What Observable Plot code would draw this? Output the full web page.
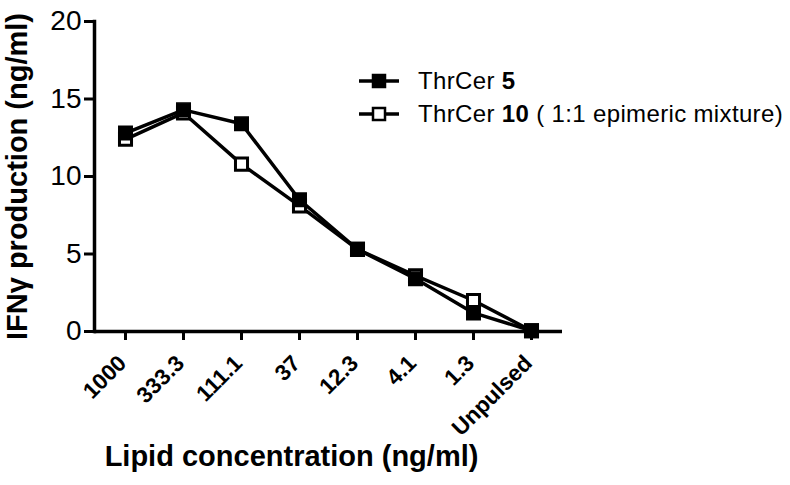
<!DOCTYPE html>
<html>
<head>
<meta charset="utf-8">
<script src="https://cdn.jsdelivr.net/npm/d3@7"></script>
<script src="https://cdn.jsdelivr.net/npm/@observablehq/plot@0.6"></script>
<style>
  html, body { margin: 0; padding: 0; background: #fff; }
  #wrap { position: relative; width: 790px; height: 485px; font-family: "Liberation Sans", Arial, sans-serif; }
  #legend { position: absolute; left: 358px; top: 64px; font-size: 24px; letter-spacing: 0.35px; color: #000; }
  .row { display: flex; align-items: center; height: 33px; white-space: nowrap; }
  .row svg { margin-right: 18px; }
</style>
</head>
<body>
<div id="wrap"></div>
<script>
// Data
const categories = ["1000", "333.3", "111.1", "37", "12.3", "4.1", "1.3", "Unpulsed"];
const thrCer5 = [12.8, 14.3, 13.4, 8.5, 5.3, 3.4, 1.2, 0.05];
const thrCer10 = [12.4, 14.1, 10.8, 8.1, 5.3, 3.6, 2.0, 0.05];
const yTicks = [0, 5, 10, 15, 20];
const seriesNames = ["ThrCer 5", "ThrCer 10"];

const data5 = categories.map((c, i) => ({cat: c, value: thrCer5[i], series: seriesNames[0]}));
const data10 = categories.map((c, i) => ({cat: c, value: thrCer10[i], series: seriesNames[1]}));

const plot = Plot.plot({
  width: 790,
  height: 485,
  marginLeft: 94,
  marginRight: 228,
  marginTop: 21,
  marginBottom: 154,
  style: {fontFamily: "'Liberation Sans', Arial, sans-serif", color: "#000", background: "#fff"},
  x: {type: "point", domain: categories, padding: 0.5, label: null},
  y: {domain: [0, 20], label: null},
  marks: [
    Plot.axisY({ticks: yTicks, tickSize: 10, tickPadding: 3, strokeWidth: 3, fontSize: 28, label: null}),
    Plot.axisX({tickSize: 9, strokeWidth: 3, tickFormat: () => "", label: null}),
    Plot.text(categories, {x: d => d, frameAnchor: "bottom", rotate: -45, textAnchor: "end", lineAnchor: "middle", dx: -3, dy: 28, fontSize: 22.5, fontWeight: "bold"}),
    Plot.frame({anchor: "left", strokeWidth: 3.5}),
    Plot.ruleY([0], {strokeWidth: 3.5}),
    Plot.line(data10, {x: "cat", y: "value", stroke: "#000", strokeWidth: 3.5}),
    Plot.line(data5, {x: "cat", y: "value", stroke: "#000", strokeWidth: 3.5}),
    Plot.dot(data10, {x: "cat", y: "value", symbol: "square", r: 6.8, fill: "#fff", stroke: "#000", strokeWidth: 3}),
    Plot.dot(data5, {x: "cat", y: "value", symbol: "square", r: 7.6, fill: "#000", stroke: "#000", strokeWidth: 1.5}),
    Plot.text(["IFNγ production (ng/ml)"], {frameAnchor: "left", rotate: -90, dx: -77, text: d => d, fontSize: 29, fontWeight: "bold", textAnchor: "middle", lineAnchor: "middle"}),
    Plot.text(["Lipid concentration (ng/ml)"], {frameAnchor: "bottom", dx: -37, dy: 125, text: d => d, fontSize: 29, fontWeight: "bold", textAnchor: "middle", lineAnchor: "middle"})
  ]
});

const wrap = document.getElementById("wrap");
wrap.appendChild(plot);

// Legend
const legend = document.createElement("div");
legend.id = "legend";
const entries = [
  {name: seriesNames[0], plain: "ThrCer ", bold: "5", rest: "", fill: "#000"},
  {name: seriesNames[1], plain: "ThrCer ", bold: "10", rest: " ( 1:1 epimeric mixture)", fill: "#fff"}
];
for (const e of entries) {
  const row = document.createElement("div");
  row.className = "row";
  const sw = d3.create("svg").attr("width", 42).attr("height", 20);
  sw.append("line").attr("x1", 1).attr("x2", 41).attr("y1", 10).attr("y2", 10).attr("stroke", "#000").attr("stroke-width", 3.5);
  sw.append("rect").attr("x", 15).attr("y", 4).attr("width", 12).attr("height", 12)
    .attr("fill", e.fill).attr("stroke", "#000").attr("stroke-width", 2.5);
  row.appendChild(sw.node());
  const label = document.createElement("span");
  label.append(e.plain);
  const b = document.createElement("b");
  b.textContent = e.bold;
  label.append(b);
  label.append(e.rest);
  row.appendChild(label);
  legend.appendChild(row);
}
wrap.appendChild(legend);
</script>
</body>
</html>
